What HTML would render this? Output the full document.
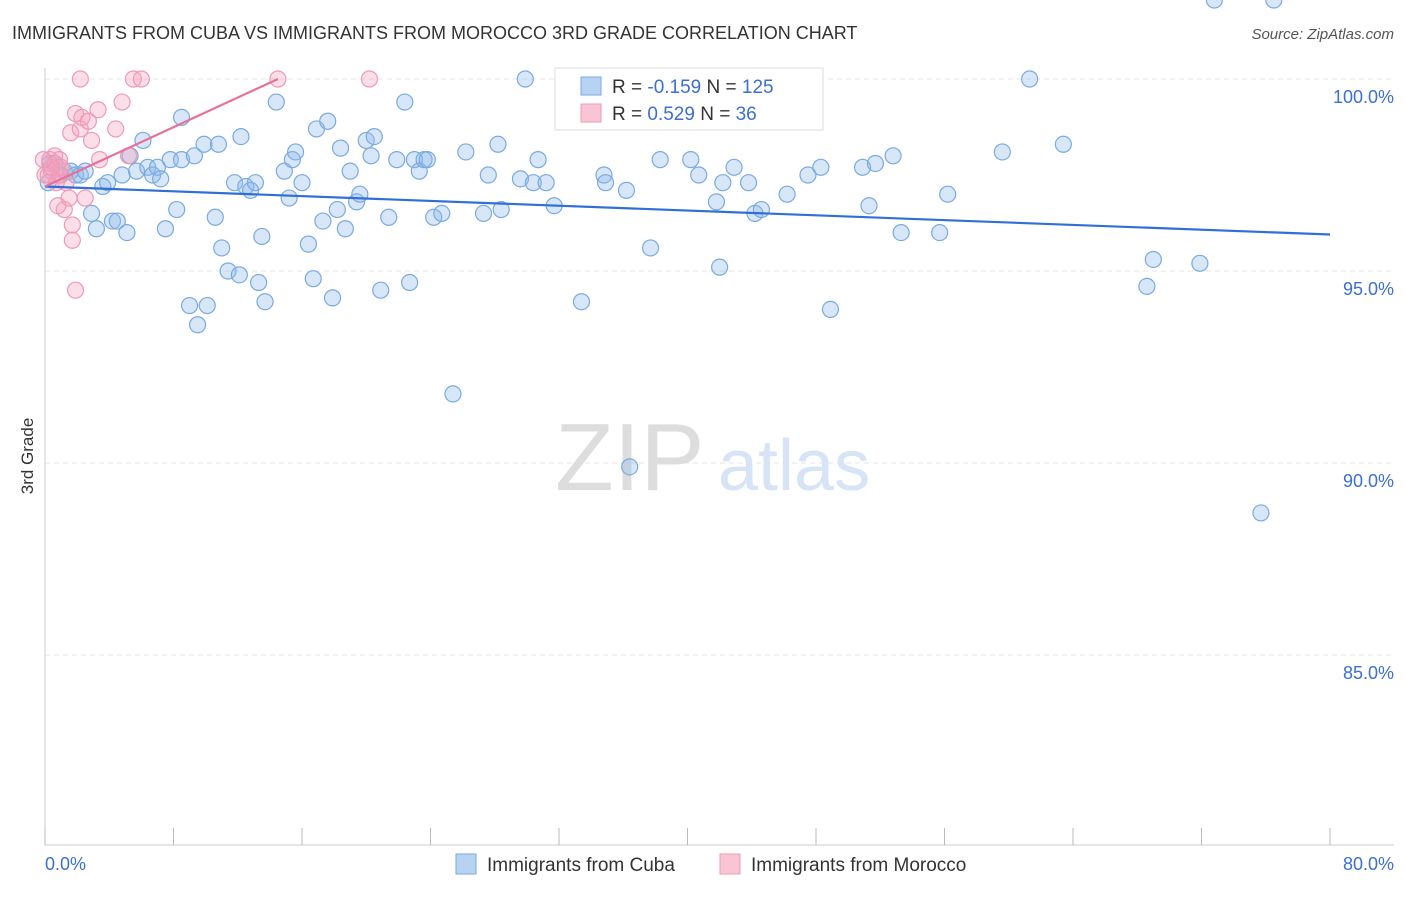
<!DOCTYPE html>
<html><head><meta charset="utf-8"><style>
body{margin:0;background:#fff;font-family:"Liberation Sans",sans-serif;}
svg text{font-family:"Liberation Sans",sans-serif;}
</style></head><body>
<svg id="c" width="1406" height="892">
<text x="12" y="39" font-size="18" fill="#333">IMMIGRANTS FROM CUBA VS IMMIGRANTS FROM MOROCCO 3RD GRADE CORRELATION CHART</text>
<text x="1394" y="39" font-size="15" fill="#555" font-style="italic" text-anchor="end">Source: ZipAtlas.com</text>
<text x="33" y="456" font-size="17" fill="#333" transform="rotate(-90 33 456)" text-anchor="middle">3rd Grade</text>
<g id="grid"></g><g id="ticks"></g>
<text x="555" y="490" font-size="96" fill="#ddd" font-family="Liberation Serif">ZIP</text>
<text x="718" y="490" font-size="72" fill="#d6e4f5">atlas</text>
<g id="pts"></g><g id="lines"></g>
<g>
<rect x="555" y="68" width="268" height="62" fill="#fff" stroke="#ddd"/>
<rect x="581" y="77" width="20" height="18" fill="#b8d3f2" stroke="#7aaae0"/>
<rect x="581" y="104" width="20" height="18" fill="#f9c5d5" stroke="#ee9ab5"/>
<text x="612" y="93" font-size="19" fill="#333">R = <tspan fill="#3b6fd0">-0.159</tspan>   N = <tspan fill="#3b6fd0">125</tspan></text>
<text x="612" y="120" font-size="19" fill="#333">R =  <tspan fill="#3b6fd0">0.529</tspan>   N =  <tspan fill="#3b6fd0"> 36</tspan></text>
</g>
<g>
<rect x="456" y="854" width="20" height="20" fill="#b8d3f2" stroke="#7aaae0"/>
<text x="487" y="871" font-size="19" fill="#333">Immigrants from Cuba</text>
<rect x="720" y="854" width="20" height="20" fill="#f9c5d5" stroke="#ee9ab5"/>
<text x="751" y="871" font-size="19" fill="#333">Immigrants from Morocco</text>
</g>
<text x="45" y="870" font-size="18" fill="#3b6fd0">0.0%</text>
<text x="1394" y="870" font-size="18" fill="#3b6fd0" text-anchor="end">80.0%</text>
</svg>
<script>
const yTicks=[100,95,90,85];
const yTickLabels=["100.0%","95.0%","90.0%","85.0%"];
const cubaX=[0.2,0.3,0.6,0.9,1.2,1.6,1.9,2.2,2.5,2.9,3.2,3.6,3.9,4.2,4.5,4.8,5.1,5.3,5.7,6.1,6.4,6.7,7.0,7.2,7.5,7.8,8.2,8.5,8.5,9.0,9.3,9.5,9.9,10.1,10.6,10.8,11.0,11.4,11.8,12.1,12.2,12.5,12.8,13.1,13.3,13.5,13.7,14.4,14.9,15.2,15.4,15.6,16.0,16.4,16.7,16.9,17.3,17.6,17.9,18.2,18.4,18.7,19.0,19.4,19.6,20.0,20.3,20.5,20.9,21.4,21.9,22.4,22.7,23.0,23.3,23.6,23.8,24.2,24.7,25.4,26.2,27.3,27.6,28.2,28.4,29.6,29.9,30.4,30.7,31.2,31.7,33.4,34.0,34.8,34.9,36.2,36.4,38.3,37.7,40.2,40.7,41.8,42.0,42.2,42.9,43.8,44.2,44.6,46.2,47.5,48.3,48.9,50.9,51.3,51.7,53.3,55.7,52.8,56.2,59.6,61.3,63.4,68.6,69.0,71.9,75.7,76.5,72.8];
const cubaY=[97.3,97.8,97.8,97.5,97.6,97.6,97.5,97.5,97.6,96.5,96.1,97.2,97.3,96.3,96.3,97.5,96.0,98.0,97.6,98.4,97.7,97.5,97.7,97.4,96.1,97.9,96.6,99.0,97.9,94.1,98.0,93.6,98.3,94.1,96.4,98.3,95.6,95.0,97.3,94.9,98.5,97.2,97.1,97.3,94.7,95.9,94.2,99.4,97.6,96.9,97.9,98.1,97.3,95.7,94.8,98.7,96.3,98.9,94.3,96.6,98.2,96.1,97.6,96.8,97.0,98.4,98.0,98.5,94.5,96.4,97.9,99.4,94.7,97.9,97.6,97.9,97.9,96.4,96.5,91.8,98.1,96.5,97.5,98.3,96.6,97.4,100.0,97.3,97.9,97.3,96.7,94.2,98.9,97.5,97.3,97.1,89.9,97.9,95.6,97.9,97.5,96.8,95.1,97.3,97.7,97.3,96.5,96.6,97.0,97.5,97.7,94.0,97.7,96.7,97.8,96.0,96.0,98.0,97.0,98.1,100.0,98.3,94.6,95.3,95.2,88.7];
const morX=[0.3,0.4,0.6,0.8,0.9,1.0,1.2,1.3,1.5,1.6,1.7,1.7,1.9,1.9,2.2,2.3,2.5,2.7,2.9,3.3,3.4,2.2,4.4,4.8,5.2,5.5,6.0,14.5,20.2,0.8,0.0,0.2,0.7,1.0,0.4,-0.1];
const morY=[97.9,97.6,98.0,97.7,97.9,97.5,96.6,97.3,96.9,98.6,96.2,95.8,94.5,99.1,98.7,99.0,96.9,98.9,98.4,99.2,97.9,100.0,98.7,99.4,98.0,100.0,100.0,100.0,100.0,96.7,97.5,97.5,97.3,97.7,97.7,97.9];
const cubaTrend=[[0,97.2],[80,95.95]];
const morTrend=[[0,97.2],[14.5,100.0]];
const NS="http://www.w3.org/2000/svg";
const X=v=>45+v/80*1285, Y=v=>79+(100-v)*38.4;
function mk(t,a,p){const e=document.createElementNS(NS,t);for(const k in a)e.setAttribute(k,a[k]);p.appendChild(e);return e;}
const g=document.getElementById('grid'),tk=document.getElementById('ticks');
yTicks.forEach((v,i)=>{
 const l=mk('line',{x1:45,x2:1394,y1:Y(v),y2:Y(v),stroke:'#e4e4e4','stroke-dasharray':'5,4'},g);
 
 
 const t=mk('text',{x:1394,y:Y(v)+24,'font-size':18,fill:'#3b6fd0','text-anchor':'end'},tk);
 t.textContent=yTickLabels[i];
 
 
});
mk('line',{x1:45,x2:45,y1:68,y2:845,stroke:'#ccc'},tk);
mk('line',{x1:45,x2:1394,y1:845,y2:845,stroke:'#ccc'},tk);
for(let i=0;i<=10;i++){const x=45+i*128.5;mk('line',{x1:x,x2:x,y1:828,y2:845,stroke:'#bbb'},tk);}
const pg=document.getElementById('pts');
cubaX.forEach((v,i)=>{
 const c=mk('circle',{cx:X(v),cy:Y(cubaY[i]),r:8,fill:'rgba(140,185,235,0.35)',stroke:'#7aaae0','stroke-width':1.2},pg);
 
 
});
morX.forEach((v,i)=>{
 const c=mk('circle',{cx:X(v),cy:Y(morY[i]),r:8,fill:'rgba(245,160,190,0.35)',stroke:'#ee9ab5','stroke-width':1.2},pg);
 
 
});
const lg=document.getElementById('lines');
const l1=mk('line',{x1:X(cubaTrend[0][0]),y1:Y(cubaTrend[0][1]),x2:X(cubaTrend[1][0]),y2:Y(cubaTrend[1][1]),stroke:'#2f6fd6','stroke-width':2.2},lg);


const l2=mk('line',{x1:X(morTrend[0][0]),y1:Y(morTrend[0][1]),x2:X(morTrend[1][0]),y2:Y(morTrend[1][1]),stroke:'#e8709a','stroke-width':2.2},lg);


</script>
</body></html>
